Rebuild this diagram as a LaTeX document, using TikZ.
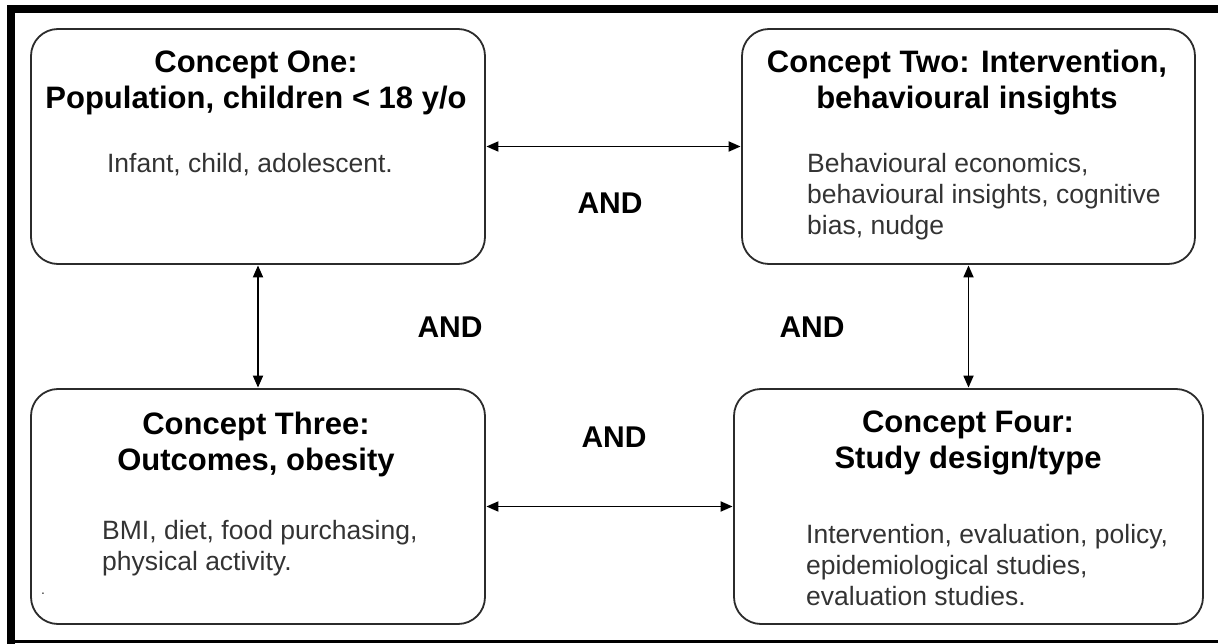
\documentclass[tikz,border=0pt]{standalone}
\usepackage{fontspec}
\setmainfont{Liberation Sans}
\usetikzlibrary{arrows.meta}
\definecolor{bodygray}{HTML}{333333}
\definecolor{edgegray}{HTML}{2B2B2B}
\tikzset{
  concept/.style={draw=edgegray, line width=1.8pt, rounded corners=27pt, inner sep=0pt, fill=none},
  title/.style={font=\fontsize{31}{36}\selectfont\bfseries, align=center, text=black, inner sep=0pt},
  body/.style={font=\fontsize{26.5}{31}\selectfont, text=bodygray, inner sep=0pt},
  andlabel/.style={font=\fontsize{30}{34}\selectfont\bfseries, text=black, inner sep=0pt},
  link/.style={line width=1.8pt, draw=black, {Triangle[length=12pt,width=10pt]}-{Triangle[length=12pt,width=10pt]}, shorten <=0.5pt, shorten >=0.5pt}
}
\begin{document}
\begin{tikzpicture}[x=1pt,y=-1pt]
\useasboundingbox (0,0) rectangle (1218,644);
% frame
\fill[black] (7,5) rectangle (1218,13);
\fill[black] (7,5) rectangle (15,644);
\fill[black] (7,639.5) rectangle (1218,642.5);
% boxes
\node[concept, minimum width=454pt, minimum height=235pt] (b1) at (258,146.5) {};
\node[concept, minimum width=453pt, minimum height=235pt] (b2) at (968.5,146.5) {};
\node[concept, minimum width=454pt, minimum height=235pt] (b3) at (258,506.5) {};
\node[concept, minimum width=469pt, minimum height=235pt] (b4) at (968.5,506.5) {};
% texts
\node[title] (t1) at (256,83) {Concept One:\\Population, children < 18 y/o};
\node[body] (d1) at (250,165) {Infant, child, adolescent.};
\node[title] (t2) at (967,83) {Concept Two: Intervention,\\behavioural insights};
\node[body, align=left, anchor=west] (d2) at (807,197) {Behavioural economics,\\behavioural insights, cognitive\\bias, nudge};
\node[title] (t3) at (256,444) {Concept Three:\\Outcomes, obesity};
\node[body, align=left, anchor=west] (d3) at (102,548) {BMI, diet, food purchasing,\\physical activity.};
\node[body, font=\fontsize{14}{16}\selectfont] (dot) at (43,594) {.};
\node[title] (t4) at (968,443) {Concept Four:\\Study design/type};
\node[body, align=left, anchor=west] (d4) at (806,565) {Intervention, evaluation, policy,\\epidemiological studies,\\evaluation studies.};
% AND labels
\node[andlabel] (a1) at (610,203) {AND};
\node[andlabel] (a2) at (450,327) {AND};
\node[andlabel] (a3) at (812,327) {AND};
\node[andlabel] (a4) at (614,437) {AND};
% connectors
\draw[link] (b1.east) -- (b2.west);
\draw[link] (b3.east) -- (b4.west);
\draw[link] (b1.south) -- (b3.north);
\draw[link] (b2.south) -- (b4.north);
\end{tikzpicture}
\end{document}
